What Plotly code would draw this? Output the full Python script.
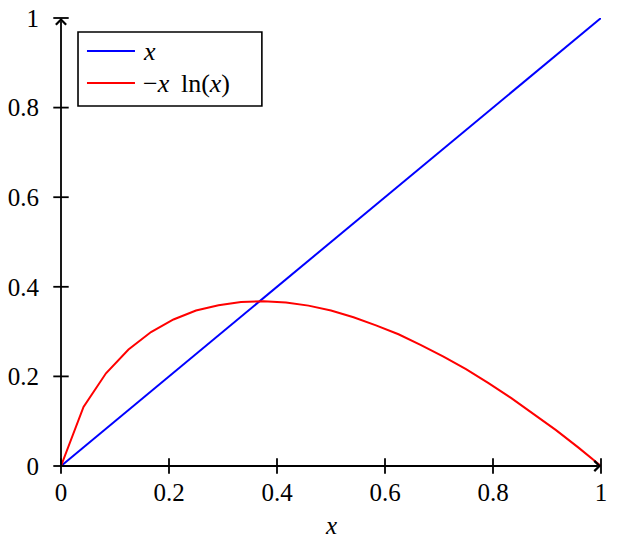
import plotly.graph_objects as go

# ---- data ----
x_blue = [0.0, 1.0]
y_blue = [0.0, 1.0]

x_red = [0.0, 0.0417, 0.0833, 0.125, 0.1667, 0.2083, 0.25, 0.2917, 0.3333,
         0.375, 0.4167, 0.4583, 0.5, 0.5417, 0.5833, 0.625, 0.6667, 0.7083,
         0.75, 0.7917, 0.8333, 0.875, 0.9167, 0.9583, 1.0]
y_red = [0.0, 0.132, 0.207, 0.260, 0.299, 0.327, 0.347, 0.359, 0.366,
         0.368, 0.365, 0.358, 0.347, 0.332, 0.314, 0.294, 0.270, 0.244,
         0.216, 0.185, 0.152, 0.117, 0.080, 0.041, 0.0]

tick_vals = [0, 0.2, 0.4, 0.6, 0.8, 1]
tick_text = ["0", "0.2", "0.4", "0.6", "0.8", "1"]

series_names = ["<i>x</i>", "\u2212<i>x</i>\u2009 ln(<i>x</i>)"]
series_colors = ["#0000ff", "#ff0000"]
x_title = "<i>x</i>"

FONT = "Liberation Serif"
FS = 25

fig = go.Figure()

fig.add_trace(go.Scatter(x=x_blue, y=y_blue, mode="lines",
                         line=dict(color=series_colors[0], width=2),
                         showlegend=False, cliponaxis=False))
fig.add_trace(go.Scatter(x=x_red, y=y_red, mode="lines",
                         line=dict(color=series_colors[1], width=2),
                         showlegend=False, cliponaxis=False))

# crossing tick marks (pgfplots "axis lines = middle" style)
fig.add_trace(go.Scatter(x=tick_vals, y=[0] * len(tick_vals), mode="markers",
                         marker=dict(symbol="line-ns-open", size=11, color="black",
                                     line=dict(color="black", width=1.8)),
                         showlegend=False, cliponaxis=False, hoverinfo="skip"))
fig.add_trace(go.Scatter(x=[0] * len(tick_vals), y=tick_vals, mode="markers",
                         marker=dict(symbol="line-ew-open", size=11, color="black",
                                     line=dict(color="black", width=1.8)),
                         showlegend=False, cliponaxis=False, hoverinfo="skip"))

# axis lines with arrow heads
fig.add_annotation(x=1, y=0, ax=0, ay=0, xref="x", yref="y", axref="x", ayref="y",
                   text="", showarrow=True, arrowhead=4, arrowsize=1.1,
                   arrowwidth=1.8, arrowcolor="black", standoff=0)
fig.add_annotation(x=0, y=1, ax=0, ay=0, xref="x", yref="y", axref="x", ayref="y",
                   text="", showarrow=True, arrowhead=4, arrowsize=1.1,
                   arrowwidth=1.8, arrowcolor="black", standoff=0)

# x-axis title
fig.add_annotation(x=0.5, y=-0.132, xref="paper", yref="paper", text=x_title,
                   showarrow=False, xanchor="center", yanchor="middle",
                   font=dict(family=FONT, size=FS, color="black"))

# manual legend (pgfplots style)
fig.add_shape(type="rect", xref="paper", yref="paper",
              x0=0.0315, x1=0.372, y0=0.8036, y1=0.96875,
              line=dict(color="black", width=1.6), fillcolor="white", layer="above")
leg_y = [0.9263, 0.8549]
for name, col, yy in zip(series_names, series_colors, leg_y):
    fig.add_shape(type="line", xref="paper", yref="paper",
                  x0=0.0481, x1=0.137, y0=yy, y1=yy,
                  line=dict(color=col, width=2), layer="above")
    fig.add_annotation(x=0.148, y=yy, xref="paper", yref="paper", text=name,
                       showarrow=False, xanchor="left", yanchor="middle",
                       font=dict(family=FONT, size=26, color="black"))

fig.update_layout(
    width=617, height=541, autosize=False,
    margin=dict(l=61, r=16, t=18, b=75),
    plot_bgcolor="white", paper_bgcolor="white",
    font=dict(family=FONT, size=FS, color="black"),
    showlegend=False,
)
fig.update_xaxes(range=[0, 1], tickvals=tick_vals, ticktext=tick_text,
                 showgrid=False, zeroline=False, showline=False, automargin=False,
                 ticks="outside", ticklen=4, tickcolor="rgba(0,0,0,0)",
                 ticklabeloverflow="allow",
                 tickfont=dict(family=FONT, size=FS))
fig.update_yaxes(range=[0, 1], tickvals=tick_vals, ticktext=tick_text,
                 showgrid=False, zeroline=False, showline=False, automargin=False,
                 ticks="outside", ticklen=16, tickcolor="rgba(0,0,0,0)",
                 ticklabeloverflow="allow",
                 tickfont=dict(family=FONT, size=FS))

fig.write_html("out.html",
               config={"displayModeBar": False},
               post_script="document.body.style.margin='0';document.body.style.overflow='hidden';")
